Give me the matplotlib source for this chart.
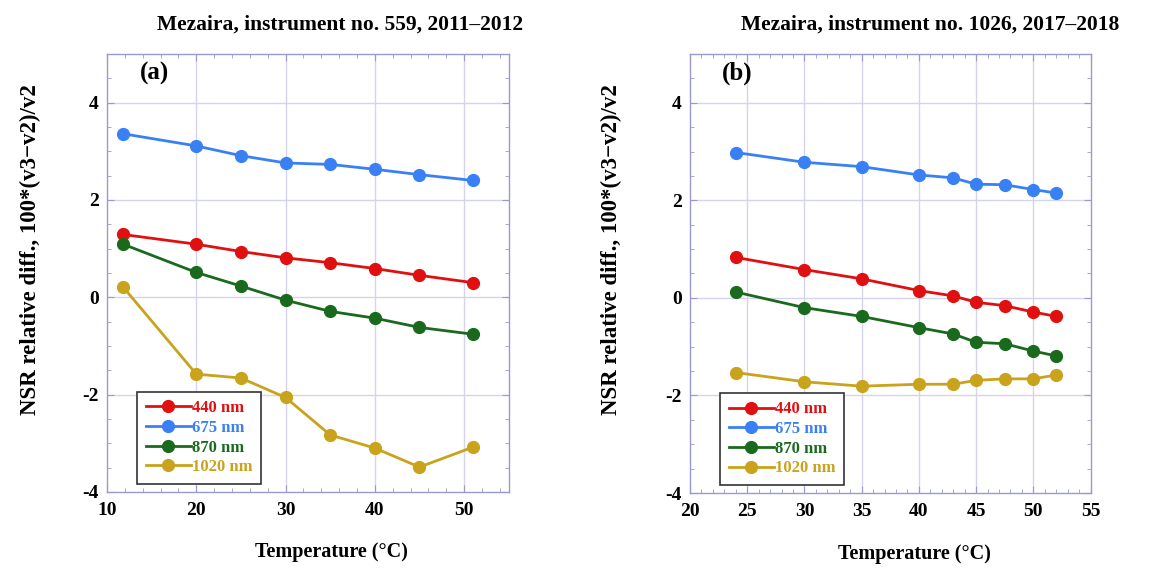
import matplotlib

matplotlib.use("Agg")
import matplotlib.pyplot as plt
from matplotlib.ticker import MultipleLocator

# panel (a): instrument 559, 2011-2012
temp_a = [11.8, 20, 25, 30, 35, 40, 45, 51]
a_440 = [1.29, 1.09, 0.94, 0.81, 0.71, 0.59, 0.45, 0.30]
a_675 = [3.36, 3.11, 2.91, 2.76, 2.73, 2.63, 2.52, 2.40]
a_870 = [1.09, 0.51, 0.23, -0.06, -0.29, -0.43, -0.62, -0.76]
a_1020 = [0.21, -1.58, -1.66, -2.06, -2.83, -3.10, -3.49, -3.08]

# panel (b): instrument 1026, 2017-2018
temp_b = [24, 30, 35, 40, 43, 45, 47.5, 50, 52]
b_440 = [0.83, 0.58, 0.39, 0.15, 0.04, -0.09, -0.16, -0.29, -0.38]
b_675 = [2.98, 2.78, 2.69, 2.52, 2.46, 2.33, 2.32, 2.22, 2.15]
b_870 = [0.12, -0.20, -0.38, -0.61, -0.74, -0.91, -0.94, -1.09, -1.19]
b_1020 = [-1.53, -1.72, -1.81, -1.77, -1.77, -1.69, -1.66, -1.66, -1.58]

labels = ["440 nm", "675 nm", "870 nm", "1020 nm"]
colors = ["#e01010", "#3a80f5", "#1a6a1e", "#c9a31c"]
titles = ["Mezaira, instrument no. 559, 2011\u20132012",
          "Mezaira, instrument no. 1026, 2017\u20132018"]

SPINE = "#9a9ad0"
GRID = "#d4d4ee"

plt.rcParams.update({
    "font.family": "serif",
    "font.serif": ["Liberation Serif", "DejaVu Serif"],
    "font.weight": "bold",
    "axes.unicode_minus": False,
})

fig = plt.figure(figsize=(11.51, 5.68), dpi=100)
ax_a = fig.add_axes([0.093, 0.134, 0.349, 0.771])
ax_b = fig.add_axes([0.5995, 0.132, 0.348, 0.773])


def style(ax, xlim, xmajor, xminor, grid_x):
    ax.set_xlim(*xlim)
    ax.set_ylim(-4, 5)
    ax.xaxis.set_major_locator(MultipleLocator(xmajor))
    ax.xaxis.set_minor_locator(MultipleLocator(xminor))
    ax.set_yticks([-4, -2, 0, 2, 4])
    ax.yaxis.set_minor_locator(MultipleLocator(0.5))
    for s in ax.spines.values():
        s.set_color(SPINE)
        s.set_linewidth(1)
    ax.tick_params(which="both", direction="in", top=True, right=True,
                   color=SPINE, labelsize=14)
    ax.tick_params(which="major", length=5)
    ax.tick_params(which="minor", length=3)
    ax.tick_params(axis="x", pad=7)
    ax.tick_params(axis="y", pad=6)
    for g in grid_x:
        ax.axvline(g, color=GRID, lw=1, zorder=0)
    for g in [-2, 0, 2, 4]:
        ax.axhline(g, color=GRID, lw=1, zorder=0)


style(ax_a, (10, 55), 10, 2, [20, 30, 40, 50])
style(ax_b, (20, 55), 5, 1, [25, 30, 35, 40, 45, 50])

for ax, x, series in [(ax_a, temp_a, [a_440, a_675, a_870, a_1020]),
                      (ax_b, temp_b, [b_440, b_675, b_870, b_1020])]:
    for y, c, lab in zip(series, colors, labels):
        ax.plot(x, y, color=c, lw=2, marker="o", markersize=8.5, label=lab,
                zorder=3)
    leg = ax.legend(loc="lower left", bbox_to_anchor=(0.055, 0.0),
                    fancybox=False, framealpha=1, edgecolor="#333333",
                    prop={"size": 12, "weight": "bold"},
                    handlelength=2.7, handletextpad=0.1, labelspacing=0.22,
                    borderpad=0.5)
    leg.get_frame().set_linewidth(1.2)
    for t, c in zip(leg.get_texts(), colors):
        t.set_color(c)

ax_a.text(0.082, 0.955, "(a)", transform=ax_a.transAxes, fontsize=18,
          fontweight="bold", va="center", ha="left")
ax_b.text(0.08, 0.955, "(b)", transform=ax_b.transAxes, fontsize=18,
          fontweight="bold", va="center", ha="left")

fig.text(340 / 1151, 1 - 25 / 568, titles[0], fontsize=15.5, fontweight="bold",
         ha="center", va="center")
fig.text(930 / 1151, 1 - 25 / 568, titles[1], fontsize=15.5, fontweight="bold",
         ha="center", va="center")

for xc in [30 / 1151, 611 / 1151]:
    fig.text(xc, 1 - 250 / 568, "NSR relative diff., 100*(v3\u2212v2)/v2",
             fontsize=16.5, fontweight="bold", rotation=90,
             ha="center", va="center")
fig.text(331 / 1151, 1 - 552 / 568, "Temperature (\u00b0C)", fontsize=14.5,
         fontweight="bold", ha="center", va="center")
fig.text(914 / 1151, 1 - 554 / 568, "Temperature (\u00b0C)", fontsize=14.5,
         fontweight="bold", ha="center", va="center")

fig.savefig("out.png", dpi=100)
